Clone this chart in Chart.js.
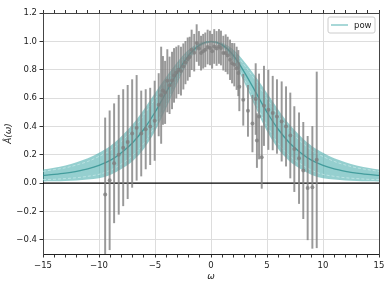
<!DOCTYPE html>
<html>
<head>
<meta charset="utf-8">
<script src="https://cdn.jsdelivr.net/npm/chart.js@4.4.0/dist/chart.umd.min.js"></script>
<style>
  html, body { margin: 0; padding: 0; background: #fff; }
  #wrap { width: 388px; height: 291px; }
</style>
</head>
<body>
<div id="wrap"><canvas id="myChart" width="388" height="291"></canvas></div>
<script>
// puntos medidos: omega, valor y su error
const omegas = [-9.45, -9.05, -8.65, -8.24, -7.84, -7.44, -7.04, -6.64, -6.23, -5.83, -5.43, -5.03,
  -4.67, -4.45, -4.29, -4.10, -3.90, -3.70, -3.48, -3.30, -3.10, -2.90, -2.68, -2.47, -2.28, -2.08,
  -1.90, -1.73, -1.50, -1.28, -1.08, -0.89, -0.70, -0.51, -0.30, -0.09, 0.10, 0.29, 0.50, 0.71,
  0.89, 1.10, 1.31, 1.49, 1.70, 1.88, 2.08, 2.29, 2.44, 2.53, 2.88, 3.30, 3.70, 3.99, 4.10, 4.29,
  4.53, 4.73, 5.12, 5.51, 5.89, 6.31, 6.70, 7.08, 7.44, 7.86, 8.24, 8.63, 9.05, 9.44];
const valores = [-0.08, 0.02, 0.14, 0.20, 0.25, 0.29, 0.35, 0.39, 0.35, 0.38, 0.40, 0.44,
  0.553, 0.62, 0.654, 0.64, 0.722, 0.69, 0.724, 0.76, 0.78, 0.80, 0.79, 0.823, 0.85, 0.875,
  0.89, 0.94, 0.92, 0.988, 0.95, 0.917, 0.93, 0.94, 0.96, 0.953, 0.93, 0.964, 0.95, 0.964,
  0.953, 0.917, 0.917, 0.90, 0.87, 0.846, 0.835, 0.81, 0.776, 0.68, 0.588, 0.51, 0.42, 0.593, 0.30, 0.47,
  0.183, 0.545, 0.517, 0.494, 0.47, 0.435, 0.40, 0.336, 0.24, 0.176, 0.089, -0.035, -0.03, 0.164];
const errores = [0.54, 0.49, 0.42, 0.42, 0.41, 0.40, 0.38, 0.37, 0.30, 0.28, 0.27, 0.28,
  0.22, 0.34, 0.24, 0.22, 0.22, 0.20, 0.20, 0.19, 0.18, 0.17, 0.17, 0.16, 0.15, 0.15,
  0.14, 0.14, 0.13, 0.13, 0.12, 0.12, 0.12, 0.12, 0.12, 0.12, 0.12, 0.12, 0.12, 0.12,
  0.12, 0.12, 0.13, 0.13, 0.14, 0.14, 0.15, 0.15, 0.16, 0.17, 0.18, 0.18, 0.2, 0.25, 0.19, 0.3,
  0.22, 0.28, 0.28, 0.26, 0.26, 0.28, 0.28, 0.30, 0.30, 0.32, 0.34, 0.365, 0.43, 0.62];

// curva "pow" y su banda
const curvaOmega = [-15, -14, -13, -12, -11, -10, -9, -8, -7, -6, -5, -4, -3, -2, -1, 0,
  1, 2, 3, 4, 5, 6, 7, 8, 9, 10, 11, 12, 13, 14, 15];
const curvaValor = [0.054, 0.061, 0.07, 0.083, 0.10, 0.125, 0.16, 0.215, 0.285, 0.38, 0.50, 0.64, 0.78, 0.90, 0.975, 1.0,
  0.975, 0.90, 0.78, 0.64, 0.50, 0.38, 0.285, 0.215, 0.16, 0.125, 0.10, 0.083, 0.07, 0.061, 0.054];
const bandaBaja = [0.012, 0.013, 0.015, 0.018, 0.025, 0.035, 0.058, 0.10, 0.155, 0.24, 0.365, 0.53, 0.705, 0.86, 0.96, 0.99,
  0.96, 0.86, 0.705, 0.53, 0.365, 0.24, 0.155, 0.10, 0.058, 0.035, 0.025, 0.018, 0.015, 0.013, 0.012];
const bandaAlta = [0.096, 0.109, 0.125, 0.148, 0.175, 0.215, 0.262, 0.33, 0.415, 0.52, 0.635, 0.75, 0.855, 0.94, 0.99, 1.003,
  0.99, 0.94, 0.855, 0.75, 0.635, 0.52, 0.415, 0.33, 0.262, 0.215, 0.175, 0.148, 0.125, 0.109, 0.096];
const internaBaja = [0.025, 0.027, 0.032, 0.038, 0.048, 0.062, 0.09, 0.135, 0.195, 0.28, 0.405, 0.56, 0.73, 0.872, 0.964, 0.995,
  0.964, 0.872, 0.73, 0.56, 0.405, 0.28, 0.195, 0.135, 0.09, 0.062, 0.048, 0.038, 0.032, 0.027, 0.025];
const internaAlta = [0.083, 0.095, 0.108, 0.128, 0.153, 0.188, 0.23, 0.295, 0.375, 0.48, 0.595, 0.72, 0.83, 0.928, 0.986, 1.0,
  0.986, 0.928, 0.83, 0.72, 0.595, 0.48, 0.375, 0.295, 0.23, 0.188, 0.153, 0.128, 0.108, 0.095, 0.083];

const xTicks = [-15, -14, -13, -12, -11, -10, -9, -8, -7, -6, -5, -4, -3, -2, -1, 0,
  1, 2, 3, 4, 5, 6, 7, 8, 9, 10, 11, 12, 13, 14, 15];
const xLabels = [-15, -10, -5, 0, 5, 10, 15];
const yTicks = [-0.4, -0.2, 0.0, 0.2, 0.4, 0.6, 0.8, 1.0, 1.2];

const teal = 'rgba(62,168,168,0.55)';
const tealLinea = 'rgba(40,140,140,0.75)';
const gris = 'rgba(128,128,128,0.8)';

const toPts = (xs, ys) => xs.map((x, i) => ({ x: x, y: ys[i] }));
const menos = (v) => String(v).replace('-', '\u2212');

// leyenda con marco dentro del area del grafico
const leyenda = {
  id: 'leyenda',
  afterDatasetsDraw(chart) {
    const ctx = chart.ctx;
    const a = chart.chartArea;
    const w = 47, h = 16;
    const x0 = a.right - w - 4, y0 = a.top + 4;
    ctx.save();
    ctx.beginPath();
    ctx.roundRect(x0, y0, w, h, 2);
    ctx.fillStyle = 'rgba(255,255,255,0.8)';
    ctx.fill();
    ctx.strokeStyle = '#cccccc';
    ctx.lineWidth = 1;
    ctx.stroke();
    ctx.beginPath();
    ctx.moveTo(x0 + 3, y0 + h / 2);
    ctx.lineTo(x0 + 20, y0 + h / 2);
    ctx.strokeStyle = 'rgba(62,168,168,0.6)';
    ctx.lineWidth = 1.5;
    ctx.stroke();
    ctx.fillStyle = '#222';
    ctx.font = '8.5px "DejaVu Sans"';
    ctx.textBaseline = 'middle';
    ctx.fillText('pow', x0 + 26, y0 + h / 2 + 0.5);
    ctx.restore();
  }
};

const ctx = document.getElementById('myChart').getContext('2d');
const myChart = new Chart(ctx, {
  type: 'scatter',
  data: {
    datasets: [
      {
        type: 'line', label: 'banda', data: toPts(curvaOmega, bandaAlta),
        borderWidth: 0, pointRadius: 0, backgroundColor: teal, fill: '+1',
        cubicInterpolationMode: 'monotone', order: 10
      },
      {
        type: 'line', label: 'banda baja', data: toPts(curvaOmega, bandaBaja),
        borderWidth: 0, pointRadius: 0, fill: false,
        cubicInterpolationMode: 'monotone', order: 10
      },
      {
        type: 'line', label: 'interna alta', data: toPts(curvaOmega, internaAlta),
        borderWidth: 0.8, borderColor: 'rgba(215,240,240,0.7)', borderDash: [3, 2],
        pointRadius: 0, fill: false, cubicInterpolationMode: 'monotone', order: 9
      },
      {
        type: 'line', label: 'interna baja', data: toPts(curvaOmega, internaBaja),
        borderWidth: 0.8, borderColor: 'rgba(215,240,240,0.7)', borderDash: [3, 2],
        pointRadius: 0, fill: false, cubicInterpolationMode: 'monotone', order: 9
      },
      {
        type: 'line', label: 'pow', data: toPts(curvaOmega, curvaValor),
        borderWidth: 1.3, borderColor: tealLinea, pointRadius: 0, fill: false,
        cubicInterpolationMode: 'monotone', order: 8
      },
      {
        type: 'line', label: 'cero', data: [{ x: -15, y: 0 }, { x: 15, y: 0 }],
        borderWidth: 1.2, borderColor: '#000', pointRadius: 0, fill: false, order: 7
      },
      {
        type: 'bar', label: 'errores',
        data: omegas.map((x, i) => ({ x: x, y: [valores[i] - errores[i], valores[i] + errores[i]] })),
        backgroundColor: gris, borderWidth: 0, barThickness: 1.3, order: 6
      },
      {
        type: 'scatter', label: 'datos', data: toPts(omegas, valores),
        pointRadius: 2, pointBackgroundColor: gris, pointBorderWidth: 0, order: 5
      }
    ]
  },
  options: {
    responsive: false,
    animation: false,
    devicePixelRatio: 1,
    layout: { padding: { left: 0, right: 0, top: 0, bottom: 0 } },
    plugins: { legend: { display: false }, tooltip: { enabled: false } },
    scales: {
      x: {
        type: 'linear', position: 'bottom', min: -15, max: 15, offset: false,
        afterBuildTicks: (s) => { s.ticks = xTicks.map(v => ({ value: v })); },
        afterFit: (s) => { s.height = 37; },
        ticks: {
          autoSkip: false, maxRotation: 0, padding: 3, color: '#222',
          font: { family: 'DejaVu Sans', size: 8.5 },
          callback: (v) => xLabels.includes(v) ? menos(v) : ''
        },
        grid: {
          offset: false, tickLength: 3.5, tickColor: '#333',
          color: (c) => (c.tick && xLabels.includes(c.tick.value) && Math.abs(c.tick.value) < 15) ? '#dddddd' : 'rgba(0,0,0,0)'
        },
        border: { color: '#222', width: 1 },
        title: {
          display: true, text: 'ω', color: '#222', padding: { top: 0, bottom: 9 },
          font: { family: 'DejaVu Sans', size: 9, style: 'italic' }
        }
      },
      x2: {
        type: 'linear', position: 'top', min: -15, max: 15, offset: false,
        afterBuildTicks: (s) => { s.ticks = xTicks.map(v => ({ value: v })); },
        afterFit: (s) => { s.height = 13; },
        ticks: { display: false },
        grid: { drawOnChartArea: false, tickLength: 3, tickColor: '#333' },
        border: { color: '#444', width: 1 }
      },
      y: {
        type: 'linear', position: 'left', min: -0.5, max: 1.2,
        afterBuildTicks: (s) => { s.ticks = yTicks.map(v => ({ value: v })); },
        afterFit: (s) => { s.width = 43; },
        ticks: {
          padding: 2.5, color: '#222', font: { family: 'DejaVu Sans', size: 8.5 },
          callback: (v) => menos(v.toFixed(1))
        },
        grid: {
          tickLength: 3.5, tickColor: '#333',
          color: (c) => (c.tick && c.tick.value < 1.1 && Math.abs(c.tick.value) > 0.01) ? '#dddddd' : 'rgba(0,0,0,0)'
        },
        border: { color: '#444', width: 1 },
        title: {
          display: true, text: 'Â(ω)', color: '#222', padding: { top: 3, bottom: 0 },
          font: { family: 'DejaVu Sans', size: 9, style: 'italic' }
        }
      },
      y2: {
        type: 'linear', position: 'right', min: -0.5, max: 1.2,
        afterFit: (s) => { s.width = 9; },
        ticks: { display: false },
        grid: { drawOnChartArea: false, drawTicks: false },
        border: { color: '#444', width: 1 }
      }
    }
  },
  plugins: [leyenda]
});
</script>
</body>
</html>
